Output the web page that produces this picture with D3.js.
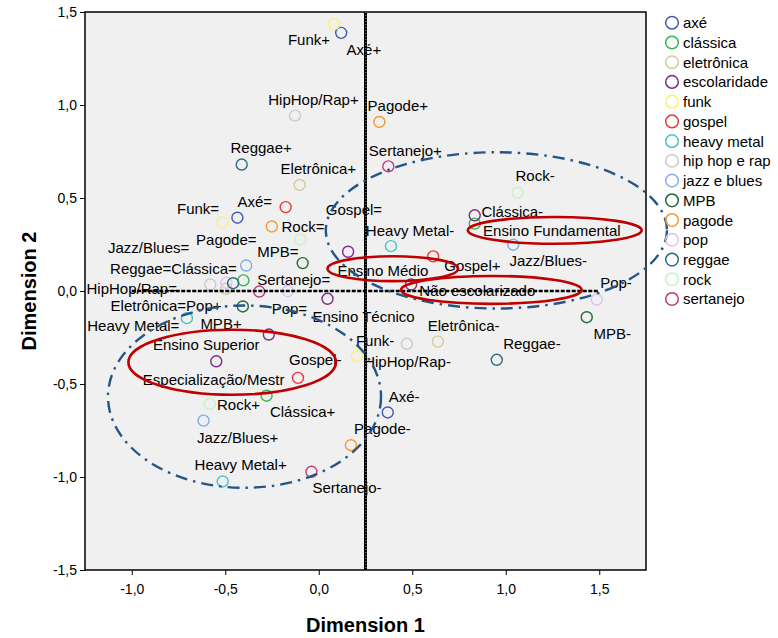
<!DOCTYPE html>
<html>
<head>
<meta charset="utf-8">
<script src="https://cdn.jsdelivr.net/npm/d3@7"></script>
<style>
  html, body { margin: 0; padding: 0; background: #fff; }
  svg { display: block; font-family: "Liberation Sans", Arial, sans-serif; }
</style>
</head>
<body>
<svg id="chart" width="778" height="638"></svg>
<script>
// ---------- DATA ----------
const seriesNames = ["axé","clássica","eletrônica","escolaridade","funk","gospel","heavy metal","hip hop e rap","jazz e blues","MPB","pagode","pop","reggae","rock","sertanejo"];

// Dimension 1 values per series
const dim1 = [
  [0.120, -0.435, 0.369],                                  // axé
  [-0.403, 0.834, -0.279],                                 // clássica
  [-0.102, -0.495, 0.637],                                 // eletrônica
  [0.834, 0.157, 0.494, 0.047, -0.267, -0.548],            // escolaridade
  [0.082, -0.514, 0.204],                                  // funk
  [-0.177, 0.612, -0.111],                                 // gospel
  [0.386, -0.705, -0.514],                                 // heavy metal
  [-0.127, -0.580, 0.471],                                 // hip hop e rap
  [-0.388, 1.040, -0.616],                                 // jazz e blues
  [-0.086, -0.406, 1.433],                                 // MPB
  [0.324, -0.251, 0.172],                                  // pagode
  [-0.494, -0.165, 1.487],                                 // pop
  [-0.412, -0.458, 0.952],                                 // reggae
  [-0.583, -0.098, 1.063],                                 // rock
  [0.372, -0.318, -0.039]                                  // sertanejo
];
// Dimension 2 values per series
const dim2 = [
  [1.388, 0.394, -0.653],
  [0.057, 0.362, -0.563],
  [0.570, 0.012, -0.272],
  [0.407, 0.211, 0.035, -0.042, -0.234, -0.378],
  [1.435, 0.369, -0.350],
  [0.451, 0.186, -0.467],
  [0.241, -0.146, -1.024],
  [0.943, 0.035, -0.284],
  [0.137, 0.249, -0.697],
  [0.150, -0.083, -0.141],
  [0.909, 0.347, -0.829],
  [0.044, -0.001, -0.046],
  [0.680, 0.042, -0.370],
  [-0.607, 0.276, 0.529],
  [0.670, -0.003, -0.972]
];

// Point labels (text, dim1 of text start, dim2 of text middle)
const labelText = ["Funk+","Axé+","HipHop/Rap+","Pagode+","Reggae+","Sertanejo+","Eletrônica+","Rock-","Axé=","Funk=","Gospel=","Rock=","Clássica-","Heavy Metal-","Ensino Fundamental","Pagode=","Jazz/Blues=","MPB=","Jazz/Blues-","Gospel+","Reggae=Clássica=","Ensino Médio","Sertanejo=","Pop-","HipHop/Rap=","Não escolarizado","Eletrônica=Pop+","Pop=","Ensino Técnico","Heavy Metal=","MPB+","Eletrônica-","MPB-","Funk-","Reggae-","Ensino Superior","Gospel-","HipHop/Rap-","Especialização/Mestr","Axé-","Rock+","Clássica+","Pagode-","Jazz/Blues+","Heavy Metal+","Sertanejo-"];
const labelX = [-0.165,0.149,-0.270,0.261,-0.472,0.268,-0.204,1.052,-0.435,-0.758,0.038,-0.199,0.870,0.252,0.879,-0.656,-1.127,-0.329,1.020,0.671,-1.116,0.100,-0.329,1.505,-1.242,0.538,-1.113,-0.252,-0.034,-1.238,-0.633,0.583,1.469,0.199,0.986,-0.887,-0.159,0.243,-0.941,0.374,-0.544,-0.261,0.189,-0.651,-0.664,-0.034];
const labelY = [1.349,1.300,1.031,0.999,0.769,0.757,0.660,0.618,0.482,0.443,0.439,0.347,0.428,0.326,0.324,0.279,0.234,0.214,0.164,0.137,0.123,0.110,0.060,0.047,0.015,0.003,-0.078,-0.092,-0.137,-0.186,-0.175,-0.186,-0.227,-0.267,-0.281,-0.290,-0.370,-0.380,-0.478,-0.568,-0.613,-0.647,-0.742,-0.787,-0.934,-1.057];

// Axis ticks
const xTicks = [-1.0, -0.5, 0.0, 0.5, 1.0, 1.5];
const yTicks = [-1.5, -1.0, -0.5, 0.0, 0.5, 1.0, 1.5];

// Reference lines (data units)
const refVerticalX = 0.25;
const refHorizontal = [-1.0, 1.5, 0.0]; // from x, to x, at y

// Highlight ellipses: centre dim1, centre dim2, radius dim1, radius dim2
const redEllipses = [
  [1.262, 0.326, 0.465, 0.072],
  [0.396, 0.120, 0.349, 0.067],
  [0.923, 0.006, 0.483, 0.075],
  [-0.463, -0.383, 0.555, 0.175]
];
const blueEllipses = [
  [0.950, 0.326, 0.912, 0.420],
  [-0.397, -0.568, 0.730, 0.490]
];

// ---------- DRAW ----------
const palette = ["#3F5BAE","#33B64A","#D2CC96","#7D2A80","#F7F56E","#EE3338","#4CC3C6","#CBCBCB","#7EACEC","#23693A","#F69A2E","#DCC3F3","#2B6C7F","#C6F3C3","#C33A7C"];
const color = d3.scaleOrdinal().domain(seriesNames).range(palette);

const svg = d3.select("#chart");
const x = d3.scaleLinear().domain([-1.25, 1.75]).range([85, 646]);
const y = d3.scaleLinear().domain([-1.5, 1.5]).range([570, 12]);
const fmt = v => d3.format(".1f")(v).replace(".", ",").replace("−", "-");

// plot background
svg.append("rect")
  .attr("x", x(-1.25)).attr("y", y(1.5))
  .attr("width", x(1.75) - x(-1.25)).attr("height", y(-1.5) - y(1.5))
  .attr("fill", "#F0F0F0");

// axes
const gx = svg.append("g").attr("transform", `translate(0,${y(-1.5)})`)
  .call(d3.axisBottom(x).tickValues(xTicks).tickFormat(fmt).tickSize(5).tickPadding(9));
const gy = svg.append("g").attr("transform", `translate(${x(-1.25)},0)`)
  .call(d3.axisLeft(y).tickValues(yTicks).tickFormat(fmt).tickSize(5).tickPadding(3));
[gx, gy].forEach(g => {
  g.select(".domain").remove();
  g.selectAll(".tick line").attr("stroke", "#000").attr("stroke-width", 1);
  g.selectAll(".tick text").attr("font-size", 14).attr("fill", "#000")
    .attr("font-family", "'Liberation Sans', Arial, sans-serif");
});

// frame
svg.append("rect")
  .attr("x", x(-1.25)).attr("y", y(1.5))
  .attr("width", x(1.75) - x(-1.25)).attr("height", y(-1.5) - y(1.5))
  .attr("fill", "none").attr("stroke", "#000").attr("stroke-width", 1.5);

// axis titles
svg.append("text")
  .attr("x", (x(-1.25) + x(1.75)) / 2).attr("y", 632)
  .attr("text-anchor", "middle").attr("font-size", 20).attr("font-weight", "bold")
  .text("Dimension 1");
svg.append("text")
  .attr("transform", `translate(36,${(y(1.5) + y(-1.5)) / 2}) rotate(-90)`)
  .attr("text-anchor", "middle").attr("font-size", 20).attr("font-weight", "bold")
  .text("Dimension 2");

// points
const pts = [];
seriesNames.forEach((s, i) => dim1[i].forEach((v, j) => pts.push({s, d1: v, d2: dim2[i][j]})));
svg.append("g").selectAll("circle").data(pts).join("circle")
  .attr("cx", d => x(d.d1)).attr("cy", d => y(d.d2)).attr("r", 5.5)
  .attr("fill", "none").attr("stroke", d => color(d.s)).attr("stroke-width", 1.4);

// labels
svg.append("g").selectAll("text").data(labelText).join("text")
  .attr("x", (d, i) => x(labelX[i])).attr("y", (d, i) => y(labelY[i]))
  .attr("dy", "0.36em").attr("font-size", 15).attr("fill", "#000")
  .text(d => d);

// reference lines
svg.append("line")
  .attr("x1", x(refVerticalX)).attr("x2", x(refVerticalX))
  .attr("y1", y(1.5)).attr("y2", y(-1.5))
  .attr("stroke", "#000").attr("stroke-width", 3);
svg.append("line")
  .attr("x1", x(refVerticalX) + 0.3).attr("x2", x(refVerticalX) + 0.3)
  .attr("y1", y(1.5)).attr("y2", y(-1.5))
  .attr("stroke", "#fff").attr("stroke-width", 0.7).attr("stroke-opacity", 0.8)
  .attr("stroke-dasharray", "1,2");
svg.append("line")
  .attr("x1", x(refHorizontal[0])).attr("x2", x(refHorizontal[1]))
  .attr("y1", y(refHorizontal[2])).attr("y2", y(refHorizontal[2]))
  .attr("stroke", "#000").attr("stroke-width", 2.6).attr("stroke-dasharray", "4,1.5");

// ellipses
const xs = x(1) - x(0), ys = y(0) - y(1);
svg.append("g").selectAll("ellipse").data(blueEllipses).join("ellipse")
  .attr("cx", d => x(d[0])).attr("cy", d => y(d[1]))
  .attr("rx", d => d[2] * xs).attr("ry", d => d[3] * ys)
  .attr("fill", "none").attr("stroke", "#245587").attr("stroke-width", 2.4)
  .attr("stroke-dasharray", "12,6,2.5,6");
svg.append("g").selectAll("ellipse").data(redEllipses).join("ellipse")
  .attr("cx", d => x(d[0])).attr("cy", d => y(d[1]))
  .attr("rx", d => d[2] * xs).attr("ry", d => d[3] * ys)
  .attr("fill", "none").attr("stroke", "#C00000").attr("stroke-width", 2.6);

// legend
const lg = svg.append("g").selectAll("g").data(seriesNames).join("g")
  .attr("transform", (d, i) => `translate(672,${22.7 + i * 19.74})`);
lg.append("circle").attr("r", 6.3).attr("fill", "none")
  .attr("stroke", d => color(d)).attr("stroke-width", 1.5);
lg.append("text").attr("x", 11).attr("dy", "0.36em").attr("font-size", 15).attr("fill", "#000")
  .text(d => d);
</script>
</body>
</html>
